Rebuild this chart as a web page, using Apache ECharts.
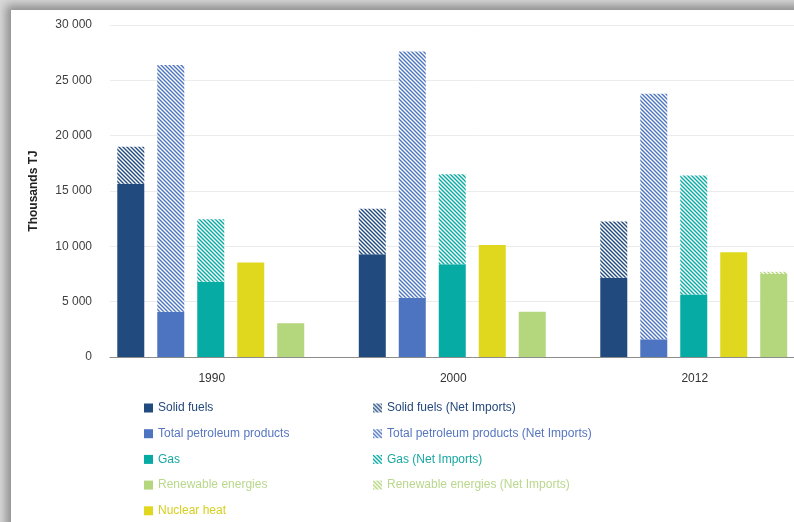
<!DOCTYPE html>
<html>
<head>
<meta charset="utf-8">
<script src="https://cdn.jsdelivr.net/npm/echarts@6/dist/echarts.min.js"></script>
<style>
  html, body { margin:0; padding:0; width:794px; height:522px; overflow:hidden; background:#d9d9d9; }
  #frame { position:absolute; left:11px; top:10px; width:900px; height:600px; background:#fff;
           box-shadow: -2px -2px 9px 3px rgba(0,0,0,0.35); }
  #chart { position:absolute; left:0; top:0; width:900px; height:522px; }
</style>
</head>
<body>
<div id="frame"></div>
<div id="chart"></div>
<script>
// ---- data (Thousands TJ) ----
const years = ['1990', '2000', '2012'];
const solidFuels        = [15650, 9290, 7170];
const solidFuelsNet     = [3350, 4100, 5070];
const petroleum         = [4100, 5360, 1600];
const petroleumNet      = [22280, 22250, 22190];
const gas               = [6810, 8380, 5640];
const gasNet            = [5640, 8140, 10760];
const nuclear           = [8530, 10130, 9470];
const renewables        = [3050, 4100, 7500];
const renewablesNet     = [0, 0, 200];
const placeholder       = [null, null, null];
const yTicks = [0, 5000, 10000, 15000, 20000, 25000, 30000];

const C = {
  solid: '#214a7e',
  petro: '#4d74c0',
  gas:   '#06aba4',
  nuc:   '#e0d81e',
  ren:   '#b4d67c'
};
const T = {
  solid: '#24487a',
  petro: '#5676c0',
  gas:   '#17a8a1',
  nuc:   '#d6cf1e',
  ren:   '#b9d88c'
};

function hatch(color) {
  const s = 4;
  const cv = document.createElement('canvas');
  cv.width = s; cv.height = s;
  const ctx = cv.getContext('2d');
  ctx.fillStyle = '#ffffff';
  ctx.fillRect(0, 0, s, s);
  ctx.strokeStyle = color;
  ctx.lineWidth = 1.4;
  ctx.beginPath();
  ctx.moveTo(-1, -1); ctx.lineTo(s + 1, s + 1);
  ctx.moveTo(-1, s - 1); ctx.lineTo(1, s + 1);
  ctx.moveTo(s - 1, -1); ctx.lineTo(s + 1, 1);
  ctx.stroke();
  return { image: cv, repeat: 'repeat' };
}

const font = "'Liberation Sans', Arial, sans-serif";
const BW = 27;
const GAP = (13 / 27 * 100).toFixed(1) + '%';

function bar(name, data, stack, color) {
  return { name, type: 'bar', stack, data, barWidth: BW, barGap: GAP,
           itemStyle: { color }, emphasis: { disabled: true } };
}

const legendBase = {
  orient: 'vertical', top: 401, padding: 0, height: 121, itemWidth: 9, itemHeight: 9, itemGap: 11.7,
  icon: 'rect', selectedMode: false, textStyle: { fontSize: 12, lineHeight: 14 }
};

const chart = echarts.init(document.getElementById('chart'), null, { renderer: 'canvas' });
chart.setOption({
  animation: false,
  textStyle: { fontFamily: font },
  grid: { left: 110, top: 25, width: 724.5, height: 332 },
  xAxis: {
    type: 'category', data: years,
    axisLine: { lineStyle: { color: '#8c8c8c', width: 1 } },
    axisTick: { show: false },
    axisLabel: { color: '#333', fontSize: 12, margin: 16, padding: [0, 38, 0, 0] }
  },
  yAxis: {
    type: 'value', min: yTicks[0], max: yTicks[yTicks.length - 1], interval: yTicks[1] - yTicks[0],
    name: 'Thousands TJ', nameLocation: 'middle', nameGap: 70, nameRotate: 90,
    nameTextStyle: { color: '#222', fontSize: 12, fontWeight: 'bold' },
    axisLine: { show: false }, axisTick: { show: false },
    axisLabel: { color: '#404040', fontSize: 12, margin: 18,
      formatter: v => String(v).replace(/\B(?=(\d{3})+(?!\d))/g, ' ') },
    splitLine: { lineStyle: { color: '#ececec', width: 1 } }
  },
  legend: [
    Object.assign({}, legendBase, { left: 144,
      data: [
        { name: 'Solid fuels', textStyle: { color: T.solid } },
        { name: 'Total petroleum products', textStyle: { color: T.petro } },
        { name: 'Gas', textStyle: { color: T.gas } },
        { name: 'Renewable energies', textStyle: { color: T.ren } },
        { name: 'Nuclear heat', textStyle: { color: T.nuc } }
      ] }),
    Object.assign({}, legendBase, { left: 373,
      data: [
        { name: 'Solid fuels (Net Imports)', textStyle: { color: T.solid } },
        { name: 'Total petroleum products (Net Imports)', textStyle: { color: T.petro } },
        { name: 'Gas (Net Imports)', textStyle: { color: T.gas } },
        { name: 'Renewable energies (Net Imports)', textStyle: { color: T.ren } }
      ] })
  ],
  series: [
    bar('Solid fuels', solidFuels, 's', C.solid),
    bar('Solid fuels (Net Imports)', solidFuelsNet, 's', hatch(C.solid)),
    bar('Total petroleum products', petroleum, 'p', C.petro),
    bar('Total petroleum products (Net Imports)', petroleumNet, 'p', hatch(C.petro)),
    bar('Gas', gas, 'g', C.gas),
    bar('Gas (Net Imports)', gasNet, 'g', hatch(C.gas)),
    bar('Nuclear heat', nuclear, 'n', C.nuc),
    bar('Renewable energies', renewables, 'r', C.ren),
    bar('Renewable energies (Net Imports)', renewablesNet, 'r', hatch(C.ren)),
    bar('', placeholder, 'x', 'transparent')
  ]
});
</script>
</body>
</html>
